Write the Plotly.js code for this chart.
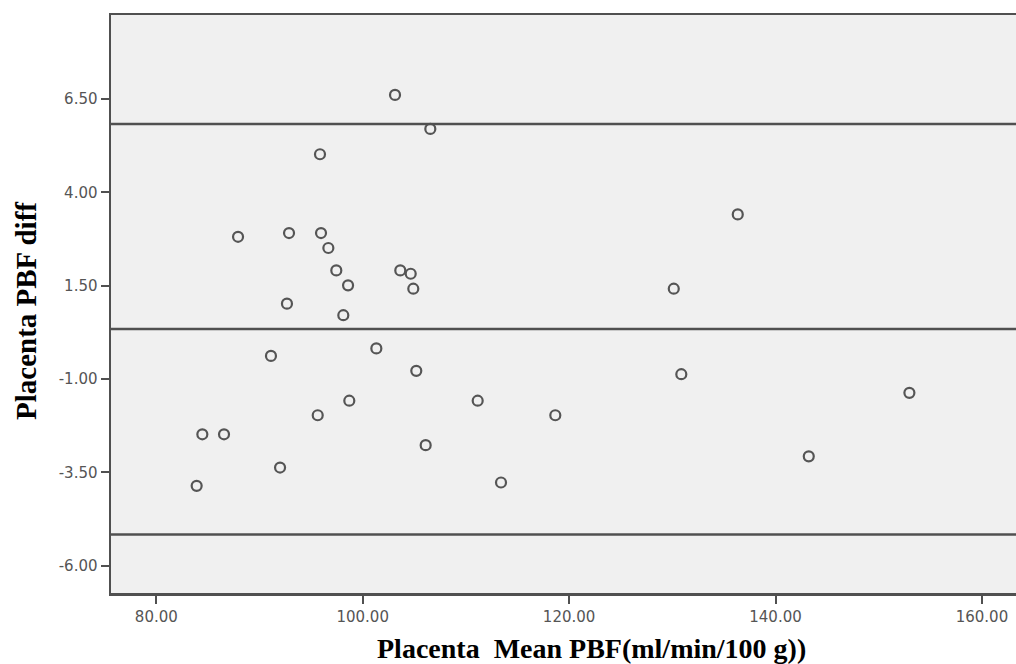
<!DOCTYPE html>
<html>
<head>
<meta charset="utf-8">
<script src="https://cdn.plot.ly/plotly-3.0.1.min.js"></script>
<style>
  html, body { margin: 0; padding: 0; background: #ffffff; }
  #chart { width: 1016px; height: 664px; }
</style>
</head>
<body>
<div id="chart"></div>
<script>
// Bland-Altman data: mean PBF (x) vs difference (y)
var meanPBF = [103.13, 106.55, 95.86, 136.34, 87.92, 92.86, 95.96, 96.67, 97.44, 103.64,
               104.65, 98.58, 104.90, 130.14, 92.66, 98.12, 91.11, 101.32, 105.19, 130.87,
               152.97, 98.70, 111.14, 95.64, 118.66, 84.46, 86.56, 106.10, 91.99, 143.22,
               83.91, 113.40];
var diffPBF = [6.61, 5.70, 5.02, 3.41, 2.81, 2.91, 2.91, 2.51, 1.91, 1.91,
               1.82, 1.51, 1.42, 1.42, 1.02, 0.71, -0.38, -0.18, -0.78, -0.87,
               -1.37, -1.58, -1.58, -1.97, -1.97, -2.48, -2.48, -2.77, -3.37, -3.07,
               -3.86, -3.77];
// Upper limit of agreement, mean difference, lower limit of agreement
var agreementLines = [5.83, 0.34, -5.16];
var xTickVals = [80, 100, 120, 140, 160];
var xTickText = ["80.00", "100.00", "120.00", "140.00", "160.00"];
var yTickVals = [6.5, 4, 1.5, -1, -3.5, -6];
var yTickText = ["6.50", "4.00", "1.50", "-1.00", "-3.50", "-6.00"];

var lineColor = "#505050";

var shapes = agreementLines.map(function (v) {
  return {
    type: "line", xref: "paper", yref: "y",
    x0: 0, x1: 1, y0: v, y1: v,
    line: { color: lineColor, width: 2.5 }
  };
});

var trace = {
  type: "scatter",
  mode: "markers",
  x: meanPBF,
  y: diffPBF,
  marker: {
    symbol: "circle-open",
    size: 10,
    color: "#555555",
    line: { color: "#555555", width: 2.2 }
  },
  hoverinfo: "x+y",
  showlegend: false
};

var tickFont = { family: "DejaVu Sans, Liberation Sans, Arial, sans-serif", size: 15, color: "#555555" };
var titleFont = { family: "Liberation Serif, Times New Roman, serif", size: 28, color: "#000000", weight: "bold" };
var yTitleFont = { family: "Liberation Serif, Times New Roman, serif", size: 29, color: "#000000", weight: "bold" };

var layout = {
  width: 1016,
  height: 664,
  margin: { l: 111, r: 0, t: 15, b: 71 },
  paper_bgcolor: "#ffffff",
  plot_bgcolor: "#f0f0f0",
  shapes: shapes,
  xaxis: {
    range: [75.61, 163.3],
    tickvals: xTickVals,
    ticktext: xTickText,
    ticks: "outside",
    ticklen: 8,
    tickwidth: 2,
    tickcolor: lineColor,
    tickfont: tickFont,
    showgrid: false,
    zeroline: false,
    showline: true,
    linecolor: lineColor,
    linewidth: 2.5,
    mirror: true,
    fixedrange: true
  },
  yaxis: {
    range: [-6.73, 8.75],
    tickvals: yTickVals,
    ticktext: yTickText,
    ticks: "outside",
    ticklen: 8,
    tickwidth: 2,
    tickcolor: lineColor,
    tickfont: tickFont,
    showgrid: false,
    zeroline: false,
    showline: true,
    linecolor: lineColor,
    linewidth: 2.5,
    fixedrange: true
  },
  annotations: [{
    text: "Placenta  Mean PBF(ml/min/100 g))",
    xref: "paper", yref: "paper",
    x: (591 - 111) / 905, y: 0,
    xanchor: "center", yanchor: "middle",
    yshift: -(648 - 593),
    showarrow: false,
    font: titleFont
  }, {
    text: "Placenta PBF diff",
    xref: "paper", yref: "paper",
    x: 0, y: (593 - 311) / 578,
    xanchor: "center", yanchor: "middle",
    xshift: -(111 - 26),
    textangle: -90,
    showarrow: false,
    font: yTitleFont
  }]
};

Plotly.newPlot("chart", [trace], layout, { displayModeBar: false, staticPlot: true });
</script>
</body>
</html>
